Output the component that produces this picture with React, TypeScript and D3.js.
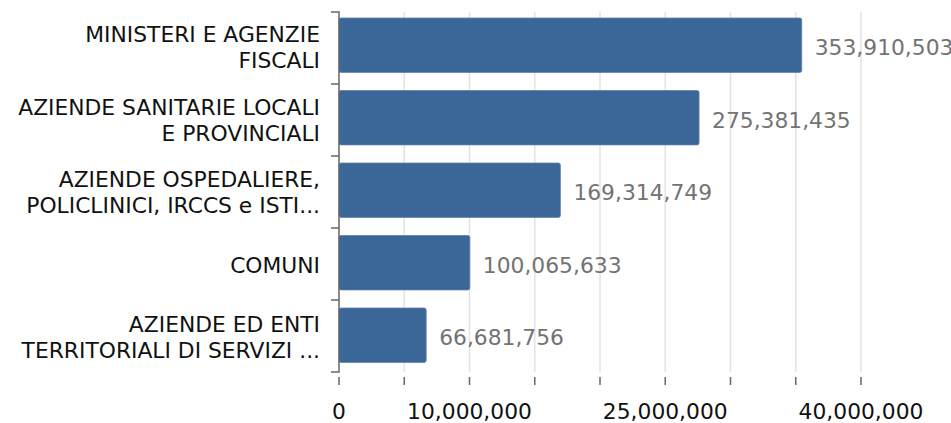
import React from "react";
import * as d3 from "d3";

const categories: string[][] = [
  ["MINISTERI E AGENZIE", "FISCALI"],
  ["AZIENDE SANITARIE LOCALI", "E PROVINCIALI"],
  ["AZIENDE OSPEDALIERE,", "POLICLINICI, IRCCS e ISTI..."],
  ["COMUNI"],
  ["AZIENDE ED ENTI", "TERRITORIALI DI SERVIZI ..."],
];
const values: number[] = [353910503, 275381435, 169314749, 100065633, 66681756];
const valueLabels: string[] = ["353,910,503", "275,381,435", "169,314,749", "100,065,633", "66,681,756"];
const tickValues: number[] = [0, 5e6, 10e6, 15e6, 20e6, 25e6, 30e6, 35e6, 40e6];
const labeledTicks: number[] = [0, 10e6, 25e6, 40e6];

const W = 951;
const H = 423;
const FONT = "DejaVu Sans, sans-serif";

export default function App() {
  const left = 339;
  const right = 861;
  const top = 12;
  const bottom = 372;
  const xAxis = d3.scaleLinear().domain([0, 40e6]).range([left, right]);
  const xBar = d3.scaleLinear().domain([0, 400e6]).range([left, 862]);
  const y = d3
    .scaleBand<number>()
    .domain(values.map((_, i) => i))
    .range([18, 362.4])
    .paddingInner(0.25)
    .paddingOuter(0);
  const bandStep = (bottom - top) / values.length;
  const fmt = d3.format(",");
  const fs = 21.8;
  return (
    <svg width={W} height={H} style={{ position: "absolute", left: 0, top: 0 }} fontFamily={FONT}>
      {/* gridlines */}
      {tickValues.slice(1).map((t) => (
        <line key={"g" + t} x1={xAxis(t)} x2={xAxis(t)} y1={top} y2={bottom} stroke="#e3e3e3" strokeWidth={1.5} />
      ))}
      {/* bars */}
      {values.map((v, i) => (
        <rect
          key={"b" + i}
          x={left}
          y={y(i)!}
          width={xBar(v) - left}
          height={y.bandwidth()}
          rx={2}
          fill="#3b6698"
          stroke="#5a80ad"
          strokeWidth={0.8}
        />
      ))}
      {/* value labels */}
      {values.map((v, i) => (
        <text
          key={"v" + i}
          x={xBar(v) + 13}
          y={y(i)! + y.bandwidth() / 2}
          dy="0.45em"
          fontSize={fs}
          fill="#737373"
        >
          {valueLabels[i]}
        </text>
      ))}
      {/* y axis */}
      <path
        d={`M${left - 8},${top}H${left}V${bottom}H${left - 8}`}
        fill="none"
        stroke="#666"
        strokeWidth={1.5}
      />
      {d3.range(1, values.length).map((k) => (
        <line key={"yt" + k} x1={left - 8} x2={left} y1={top + k * bandStep} y2={top + k * bandStep} stroke="#666" strokeWidth={1.5} />
      ))}
      {categories.map((lines, i) => {
        const cy = y(i)! + y.bandwidth() / 2;
        const lh = 26;
        const start = cy - ((lines.length - 1) * lh) / 2;
        return (
          <text key={"c" + i} textAnchor="end" fontSize={fs} fill="#111">
            {lines.map((l, j) => (
              <tspan key={j} x={320} y={start + j * lh} dy="0.45em">
                {l}
              </tspan>
            ))}
          </text>
        );
      })}
      {/* x axis ticks */}
      {tickValues.map((t) => (
        <line key={"xt" + t} x1={xAxis(t)} x2={xAxis(t)} y1={377} y2={385} stroke="#666" strokeWidth={1.5} />
      ))}
      {labeledTicks.map((t) => (
        <text key={"xl" + t} x={xAxis(t)} y={411} dy="0.35em" textAnchor="middle" fontSize={fs} fill="#111">
          {fmt(t)}
        </text>
      ))}
    </svg>
  );
}
